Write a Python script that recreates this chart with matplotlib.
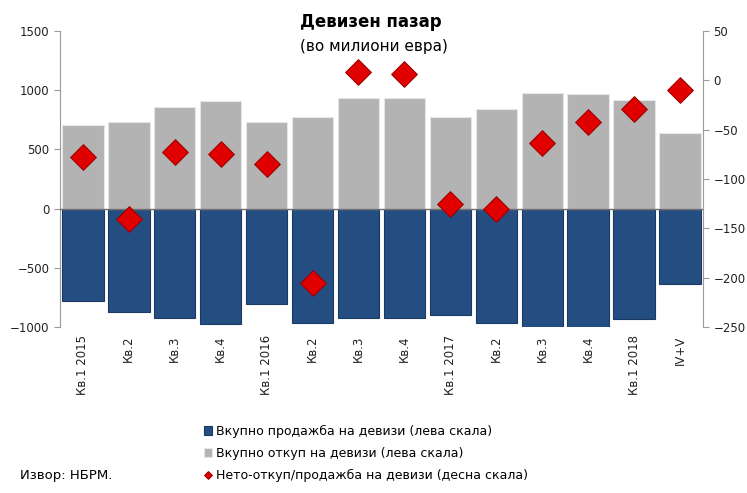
import numpy as np
import matplotlib.pyplot as plt

# податоци (милиони евра)
quarters = ["Кв.1 2015", "Кв.2", "Кв.3", "Кв.4", "Кв.1 2016", "Кв.2", "Кв.3", "Кв.4",
            "Кв.1 2017", "Кв.2", "Кв.3", "Кв.4", "Кв.1 2018", "IV+V"]
sales = [-780, -870, -920, -975, -805, -965, -920, -920, -895, -970, -1000, -1000, -935, -640]
purchases = [705, 735, 855, 905, 730, 770, 935, 935, 775, 845, 975, 970, 915, 635]
net = [-78, -141, -73, -75, -85, -205, 8, 6, -125, -130, -63, -42, -29, -10]

blue = "#244e82"
grey = "#b3b3b3"
red = "#e00000"

fig = plt.figure(figsize=(7.47, 4.93), dpi=100)
ax = fig.add_axes([0.0803, 0.3367, 0.8607, 0.6003])
x = np.arange(len(quarters))

b1 = ax.bar(x, sales, width=0.9, color=blue, edgecolor="#1a3a63", linewidth=0.8,
            label="Вкупно продажба на девизи (лева скала)", zorder=2)
b2 = ax.bar(x, purchases, width=0.9, color=grey, edgecolor="#e6e6e6", linewidth=0.8,
            label="Вкупно откуп на девизи (лева скала)", zorder=2)
ax.axhline(0, color="#6f6f6f", lw=1, zorder=3)

ax.set_xlim(-0.5, len(quarters) - 0.5)
ax.set_ylim(-1000, 1500)
ax.set_yticks(range(-1000, 1501, 500))
ax.set_xticks(x)
ax.set_xticklabels(quarters, rotation=90, fontsize=8.5)
ax.tick_params(axis="x", length=0, pad=6, labelcolor="#222222")
ax.tick_params(axis="y", labelsize=8.5, color="#9a9a9a", length=4, labelcolor="#222222")
for s in ["top", "bottom", "right"]:
    ax.spines[s].set_visible(False)
ax.spines["left"].set_color("#9a9a9a")

ax2 = ax.twinx()
m = ax2.scatter(x, net, marker="D", s=170, color=red, edgecolor="#a00000", linewidth=0.8,
                label="Нето-откуп/продажба на девизи (десна скала)", zorder=5)
ax2.set_ylim(-250, 50)
ax2.set_yticks(range(-250, 51, 50))
ax2.tick_params(axis="y", labelsize=8.5, color="#9a9a9a", length=4, labelcolor="#222222")
for s in ["top", "bottom", "left"]:
    ax2.spines[s].set_visible(False)
ax2.spines["right"].set_color("#9a9a9a")

fig.text(0.497, 0.955, "Девизен пазар", ha="center", va="center", fontsize=12, fontweight="bold")
fig.text(0.5, 0.905, "(во милиони евра)", ha="center", va="center", fontsize=11)

leg = fig.legend(handles=[b1, b2, m], loc="lower center", bbox_to_anchor=(0.49, 0.0),
                 frameon=False, fontsize=9, handlelength=0.6, handletextpad=0.3,
                 labelspacing=0.7, markerscale=0.3)
fig.text(0.027, 0.022, "Извор: НБРМ.", fontsize=9.5, va="bottom")

fig.savefig("out.png", dpi=100)
